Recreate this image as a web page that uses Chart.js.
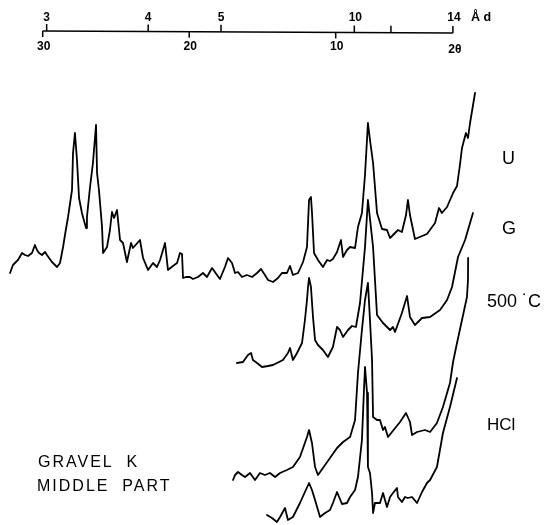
<!DOCTYPE html>
<html><head><meta charset="utf-8">
<script src="https://cdn.jsdelivr.net/npm/chart.js@4/dist/chart.umd.min.js"></script>
<style>html,body{margin:0;padding:0;background:#fff}canvas{display:block}</style>
</head><body>
<canvas id="c" width="544" height="525"></canvas>
<script>
// ---- data (2θ in degrees, intensity in arbitrary stacked units) ----
const twoThetaU = [32.23,32.03,31.69,31.41,31.21,31.00,30.73,30.53,30.39,30.25,30.05,29.84,29.71,29.37,29.02,28.82,28.61,28.48,28.27,28.00,27.93,27.80,27.66,27.52,27.32,27.25,27.04,26.98,26.77,26.57,26.36,26.29,26.16,25.95,25.88,25.61,25.41,25.27,25.13,24.93,24.72,24.52,24.25,23.97,23.84,23.36,23.15,22.81,22.47,22.20,21.99,21.79,21.65,21.45,21.11,20.83,20.63,20.49,20.42,20.22,19.95,19.74,19.40,19.06,18.79,18.44,18.10,17.90,17.56,17.35,17.08,16.87,16.67,16.40,16.06,15.71,15.37,15.10,14.83,14.62,14.28,13.94,13.67,13.33,13.12,12.92,12.57,12.23,11.96,11.82,11.69,11.62,11.48,11.21,10.87,10.59,10.39,10.19,9.91,9.64,9.50,9.23,9.02,8.68,8.48,8.21,8.00,7.80,7.66,7.45,7.18,6.84,6.50,6.29,5.95,5.75,5.48,5.20,5.07,4.93,4.59,3.77,3.22,2.95,2.75,2.40,1.99,1.72,1.52,1.38,1.11,0.97,0.83,0.49];
const intensityU = [252,260,265,272,270,269,272,280,275,272,270,273,270,263,258,262,278,290,308,335,372,392,365,327,312,308,297,308,338,362,400,352,335,298,272,278,295,313,307,315,285,282,263,282,277,285,267,255,262,258,265,275,282,255,259,262,272,271,247,248,248,246,248,252,248,257,250,246,258,267,262,252,253,248,250,248,252,256,250,245,243,247,252,252,259,250,252,263,278,325,328,313,272,265,258,265,264,266,273,285,268,275,278,277,298,312,350,402,385,362,312,296,295,287,292,295,293,310,325,310,286,291,302,317,312,318,332,339,360,377,392,387,402,432];

const twoThetaG = [16.74,16.33,15.99,15.78,15.65,15.37,15.03,14.62,14.28,13.60,13.26,13.12,12.92,12.64,12.30,12.10,11.96,11.89,11.82,11.69,11.55,11.41,11.21,10.87,10.53,10.19,9.91,9.71,9.50,9.16,8.89,8.62,8.34,8.00,7.80,7.45,7.18,6.77,6.29,6.09,5.95,5.48,5.13,4.93,4.59,4.11,3.56,2.88,2.40,2.06,1.65,1.17,0.63];
const intensityG = [162,163,170,172,165,162,158,159,160,165,172,177,165,172,182,205,225,238,247,238,208,185,180,175,168,178,198,195,188,195,199,198,222,278,325,278,210,202,195,198,193,212,229,208,200,207,208,215,225,238,268,285,312];

const twoTheta500 = [17.01,16.87,16.67,16.40,16.19,15.85,15.51,15.17,14.83,14.49,14.14,13.80,13.33,12.92,12.44,11.96,11.82,11.62,11.41,11.21,10.87,10.39,9.91,9.50,9.02,8.68,8.48,8.21,8.00,7.80,7.66,7.52,7.45,7.18,6.98,6.77,6.64,6.43,6.16,5.61,5.20,4.93,4.79,4.45,3.91,3.56,3.09,2.68,2.20,1.99,1.72,1.38,1.04,0.97,0.96];
const intensity500 = [45,50,53,50,48,52,45,52,50,52,48,52,55,58,68,88,95,82,58,50,57,67,77,83,88,105,152,195,225,242,205,165,108,105,105,95,98,88,93,103,112,103,90,93,95,93,102,118,142,163,182,205,228,245,267];

const twoThetaHCl = [14.69,14.35,14.01,13.80,13.46,13.26,12.92,12.44,12.10,11.82,11.62,11.41,11.07,10.73,10.39,10.19,9.91,9.57,9.23,9.02,8.68,8.48,8.21,8.07,8.00,7.86,7.80,7.66,7.52,7.45,7.32,6.98,6.77,6.50,6.29,6.09,5.82,5.75,5.48,5.27,5.07,4.79,4.45,4.11,3.77,3.56,3.09,2.68,2.20,1.72];
const intensityHCl = [10,7,3,8,17,5,8,22,33,42,35,25,8,12,15,22,33,21,22,28,35,48,85,135,158,132,58,52,32,12,22,22,32,18,28,32,37,28,23,28,27,28,22,33,42,45,58,92,118,147];

const seriesNames = ['U', 'G', '500 \u02D9C', 'HCl'];

// axis ticks
const twoThetaTicks = [30, 20, 10];
const twoThetaTickLabels = ['30', '20', '10'];
const twoThetaAxisEnd = 2;
const twoThetaAxisStart = 30;
const dTickPositions = [29.73, 22.8, 17.83, 8.73, 6.23, 2.0];   // in 2θ
const dTickLabels = ['3', '4', '5', '10', '', '14'];
const sampleTitle = ['GRAVEL  K', 'MIDDLE  PART'];

// ---- helpers ----
function pts(xs, ys) {
  const n = Math.min(xs.length, ys.length);
  const out = [];
  for (let i = 0; i < n; i++) out.push({x: xs[i], y: ys[i]});
  return out;
}

const FONT = '"Liberation Sans", Arial, Helvetica, sans-serif';

const bgPlugin = {
  id: 'bg',
  beforeDraw(chart) {
    const c = chart.ctx;
    c.save(); c.fillStyle = '#fff'; c.fillRect(0, 0, chart.width, chart.height); c.restore();
  }
};

const axisPlugin = {
  id: 'topAxis',
  afterDraw(chart) {
    const ctx = chart.ctx;
    const xs = chart.scales.x;
    const x0 = xs.getPixelForValue(twoThetaAxisStart);
    const x1 = xs.getPixelForValue(twoThetaAxisEnd);
    const lineY = px => 31 + (px - x0) / (x1 - x0) * 2;
    ctx.save();
    ctx.strokeStyle = '#000';
    ctx.fillStyle = '#000';
    ctx.lineWidth = 1.5;
    ctx.beginPath();
    ctx.moveTo(x0, lineY(x0));
    ctx.lineTo(x1, lineY(x1));
    ctx.stroke();
    // bottom (2θ) ticks
    ctx.font = 'bold 12px ' + FONT;
    ctx.textAlign = 'center';
    ctx.textBaseline = 'middle';
    twoThetaTicks.forEach((v, i) => {
      const p = xs.getPixelForValue(v);
      ctx.beginPath(); ctx.moveTo(p, lineY(p)); ctx.lineTo(p, lineY(p) + 6); ctx.stroke();
      ctx.fillText(twoThetaTickLabels[i], p + 1, 47);
    });
    ctx.fillText('2\u03B8', x1 + 2, 50);
    // top (d-spacing) ticks
    dTickPositions.forEach((v, i) => {
      const p = xs.getPixelForValue(v);
      ctx.beginPath(); ctx.moveTo(p, lineY(p)); ctx.lineTo(p, lineY(p) - 7); ctx.stroke();
      if (dTickLabels[i]) ctx.fillText(dTickLabels[i], p + (dTickLabels[i].length > 1 ? 1 : 0), 18);
    });
    ctx.textAlign = 'left';
    ctx.font = 'bold 12.5px ' + FONT;
    ctx.fillText('\u00C5 d', x1 + 18, 18);

    // series labels
    ctx.font = '18px ' + FONT;
    ctx.textAlign = 'left';
    ctx.fillText(seriesNames[0], 502, 159);
    ctx.fillText(seriesNames[1], 502, 229);
    ctx.fillText(seriesNames[2], 487, 302);
    ctx.font = '17px ' + FONT;
    ctx.fillText(seriesNames[3], 487, 425);

    // sample title
    ctx.font = '16px ' + FONT;
    if ('letterSpacing' in ctx) ctx.letterSpacing = '2px';
    ctx.fillText(sampleTitle[0], 38, 463);
    ctx.fillText(sampleTitle[1], 37, 487);
    ctx.restore();
  }
};

const common = { borderColor: '#000', borderWidth: 1.8, pointRadius: 0, tension: 0, fill: false, borderJoinStyle: 'round', borderCapStyle: 'round' };

new Chart(document.getElementById('c'), {
  type: 'line',
  data: {
    datasets: [
      Object.assign({label: seriesNames[0], data: pts(twoThetaU, intensityU)}, common),
      Object.assign({label: seriesNames[1], data: pts(twoThetaG, intensityG)}, common),
      Object.assign({label: seriesNames[2], data: pts(twoTheta500, intensity500)}, common),
      Object.assign({label: seriesNames[3], data: pts(twoThetaHCl, intensityHCl)}, common)
    ]
  },
  options: {
    responsive: false,
    animation: false,
    parsing: true,
    layout: { padding: 0 },
    plugins: { legend: { display: false }, tooltip: { enabled: false }, title: { display: false } },
    scales: {
      x: { type: 'linear', reverse: true, min: 32.915 - 544 / 14.65, max: 32.915, display: false },
      y: { type: 'linear', min: 0, max: 525, display: false }
    }
  },
  plugins: [bgPlugin, axisPlugin]
});
</script>
</body></html>
